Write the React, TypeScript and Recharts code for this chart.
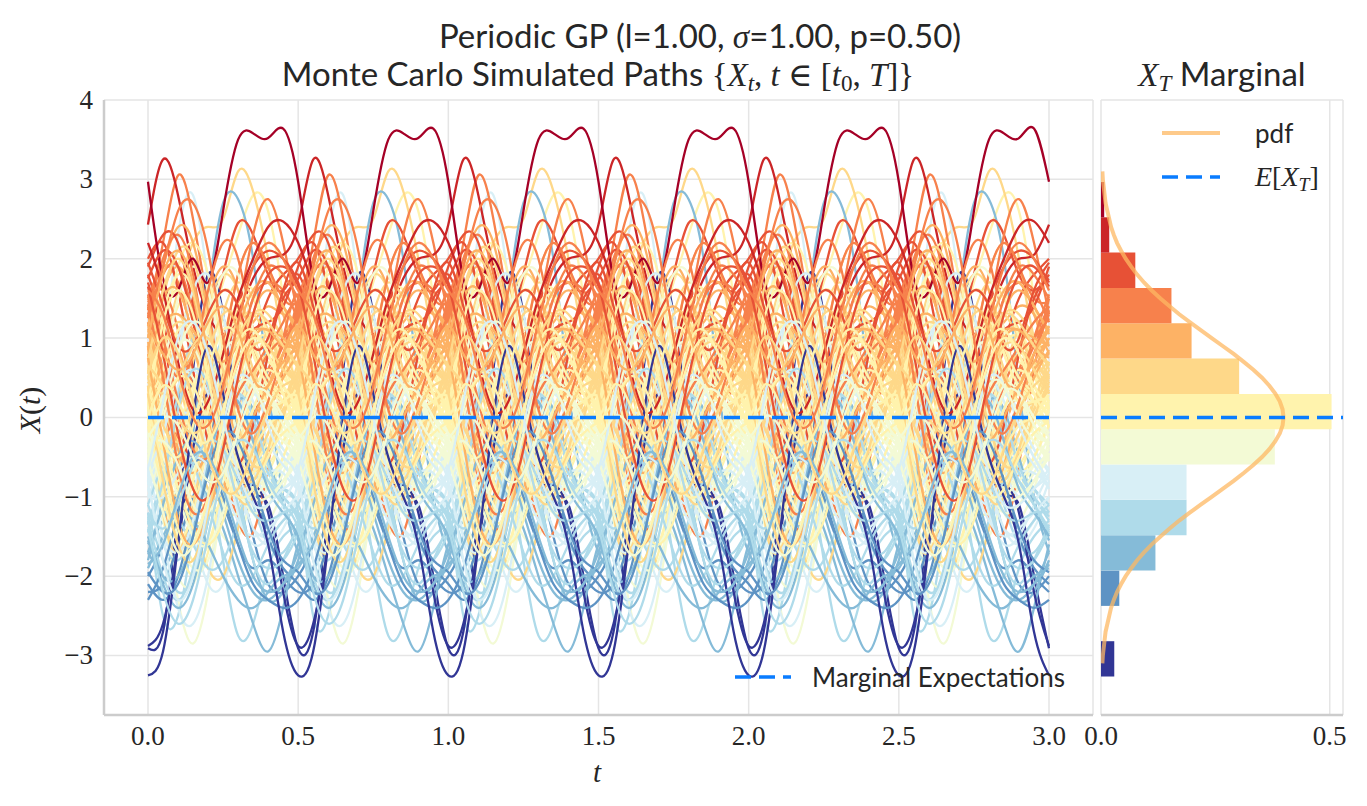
import React from 'react';
import {
  LineChart,
  Line,
  XAxis,
  YAxis,
  CartesianGrid,
  ComposedChart,
  ReferenceArea,
  Scatter,
} from 'recharts';

// one period (p = 0.5) of every simulated path, sampled at these offsets;
// the paths repeat every period so X_T equals X_0
const SAMPLE_T = [0, 0.05, 0.1, 0.15, 0.2, 0.25, 0.3, 0.35, 0.4, 0.45];
const N_PERIODS = 6;

// paths grouped by the histogram bin of their end value X_T
const darkRedPaths = [[2.97, 1.75, 1.6, 2.0, 1.7, 2.6, 3.5, 3.58, 3.52, 3.64]];
const redPaths = [
  [2.43, 3.25, 2.8, 1.9, 1.3, 1.05, 1.3, 1.75, 2.0, 2.05],
  [2.2, 1.6, 0.7, 0.1, 0.2, 0.8, 1.5, 2.0, 2.4, 2.47],
];
const redOrangePaths = [
  [1.8, 1.2, 0.5, 0.4, 1.0, 1.8, 2.45, 2.3, 1.8, 1.6],
  [2.0, 2.2, 1.6, 0.6, -0.3, -0.5, 0.1, 0.9, 1.5, 1.8],
  [1.7, 1.0, 0.0, -0.6, -0.4, 0.5, 1.4, 1.9, 2.1, 2.0],
  [1.9, 2.3, 2.2, 1.4, 0.6, 0.3, 0.7, 1.1, 1.2, 1.4],
  [1.75, 2.1, 1.9, 1.2, 0.3, -0.4, -0.6, -0.1, 0.8, 1.5],
  [1.95, 1.4, 0.9, 0.9, 1.3, 1.6, 1.4, 0.9, 1.0, 1.6],
  [1.65, 0.8, -0.2, -0.9, -1.0, -0.4, 0.5, 1.3, 1.8, 1.9],
];
const orangePaths = [
  [1.4, 2.2, 3.05, 2.5, 1.4, 0.3, -0.3, 0.0, 0.6, 1.0],
  [1.3, 0.6, -0.3, -0.8, -0.6, 0.2, 1.3, 2.3, 2.75, 2.2],
  [1.5, 1.9, 1.7, 1.0, 0.2, -0.6, -1.3, -1.45, -0.6, 0.6],
  [1.2, 0.3, -0.8, -1.4, -1.1, -0.2, 0.8, 1.5, 1.7, 1.6],
  [1.45, 1.6, 1.1, 0.4, 0.3, 0.9, 1.8, 2.2, 1.9, 1.5],
  [1.35, 2.0, 2.3, 1.8, 0.7, -0.2, -0.4, 0.0, 0.5, 0.9],
  [1.55, 0.9, 0.5, 0.8, 1.6, 2.2, 2.0, 1.1, 0.6, 1.0],
  [1.25, 1.8, 1.9, 1.3, 0.4, -0.2, -0.1, 0.4, 0.8, 1.0],
  [1.5, 1.0, 0.2, -0.4, -0.5, 0.0, 0.8, 1.5, 1.9, 1.8],
  [1.4, 0.5, -0.6, -1.2, -1.0, -0.3, 0.3, 0.6, 0.9, 1.2],
  [1.3, 1.9, 2.6, 2.7, 2.1, 1.0, 0.1, -0.2, 0.2, 0.8],
  [1.6, 1.3, 0.6, 0.0, -0.1, 0.4, 1.2, 1.9, 2.2, 2.0],
];
const lightOrangePaths = [
  [0.9, -1.0, -1.7, -1.2, -0.2, 0.6, 1.0, 1.2, 1.4, 1.3],
  [1.0, 1.6, 1.9, 1.5, 0.6, -0.3, -0.6, -0.3, 0.2, 0.6],
  [0.8, 0.2, -0.4, -0.5, 0.0, 0.9, 1.8, 2.2, 1.9, 1.3],
  [1.1, 1.3, 0.9, 0.2, -0.6, -0.9, -0.6, -0.1, 0.4, 0.8],
  [0.95, 0.4, 0.3, 0.8, 1.5, 1.9, 1.6, 0.9, 0.6, 0.8],
  [1.15, 1.9, 2.4, 2.2, 1.3, 0.3, -0.2, -0.1, 0.4, 0.8],
  [0.8, 0.0, -0.5, -0.55, -0.5, -0.8, -0.9, -0.4, 0.2, 0.6],
  [1.05, 0.6, -0.2, -0.9, -1.1, -0.6, 0.4, 1.3, 1.6, 1.4],
  [0.85, 1.5, 1.6, 1.0, 0.0, -0.8, -1.0, -0.6, 0.0, 0.5],
  [1.1, 0.4, -0.4, -0.7, -0.4, 0.3, 1.1, 1.6, 1.7, 1.4],
  [0.9, 1.2, 1.3, 1.1, 0.8, 0.7, 0.9, 1.1, 1.1, 1.0],
  [0.75, -0.3, -1.3, -1.6, -1.2, -0.4, 0.5, 1.0, 1.1, 0.9],
  [1.0, 1.8, 2.1, 1.7, 0.8, 0.0, -0.3, 0.0, 0.4, 0.7],
  [1.15, 0.8, 0.6, 0.8, 1.2, 1.4, 1.1, 0.5, 0.4, 0.8],
];
const sandPaths = [
  [0.5, 0.9, 1.6, 2.2, 2.4, 2.5, 3.1, 2.85, 2.0, 1.0],
  [0.4, -0.4, -1.2, -1.5, -1.0, -0.1, 0.7, 1.0, 0.9, 0.6],
  [0.6, 1.3, 1.6, 1.2, 0.4, -0.4, -0.8, -0.7, -0.2, 0.2],
  [0.35, 0.0, 0.1, 0.7, 1.4, 1.8, 1.6, 1.0, 0.5, 0.3],
  [0.7, 0.3, -0.5, -1.3, -1.9, -2.0, -1.4, -0.6, 0.1, 0.5],
  [0.5, 1.1, 1.3, 0.9, 0.2, -0.2, 0.0, 0.5, 0.8, 0.7],
  [0.3, -0.6, -1.0, -0.6, 0.4, 1.3, 1.7, 1.5, 1.1, 0.7],
  [0.65, 0.9, 0.5, -0.3, -0.9, -1.0, -0.4, 0.5, 1.1, 1.0],
  [0.45, 0.1, -0.3, -0.3, 0.2, 0.8, 1.2, 1.3, 1.0, 0.7],
  [0.55, 1.5, 2.1, 2.0, 1.2, 0.2, -0.5, -0.7, -0.4, 0.1],
  [0.4, -1.2, -1.7, -1.1, -0.3, -0.2, -0.6, -0.8, -0.4, 0.0],
  [0.6, 0.0, -0.7, -1.0, -0.7, 0.0, 0.8, 1.3, 1.3, 1.0],
  [0.35, 0.9, 1.2, 1.0, 0.4, -0.3, -0.7, -0.6, -0.2, 0.1],
  [0.5, -0.1, -0.3, 0.1, 0.8, 1.3, 1.2, 0.6, 0.2, 0.2],
  [0.7, 1.6, 2.0, 1.6, 0.7, -0.3, -1.0, -1.0, -0.4, 0.2],
  [0.45, 0.3, 0.5, 0.9, 1.0, 0.6, -0.1, -0.6, -0.5, 0.0],
  [0.3, -0.8, -1.6, -1.8, -1.2, -0.3, 0.5, 0.9, 0.9, 0.6],
  [0.65, 0.4, 0.0, -0.2, 0.0, 0.5, 1.0, 1.3, 1.2, 0.9],
  [0.55, 1.0, 0.8, 0.2, -0.5, -0.9, -0.9, -0.4, 0.1, 0.4],
];
const yellowPaths = [
  [0.1, -0.5, -0.6, 0.1, 1.0, 1.7, 2.3, 2.8, 2.6, 1.5],
  [0.0, 0.8, 1.4, 1.5, 0.9, 0.0, -0.7, -0.9, -0.7, -0.3],
  [0.2, -0.5, -1.3, -1.8, -1.6, -0.9, 0.0, 0.6, 0.7, 0.5],
  [-0.1, 0.3, 0.9, 1.2, 1.1, 0.5, -0.2, -0.8, -0.9, -0.5],
  [0.25, 0.9, 1.0, 0.5, -0.2, -0.6, -0.5, 0.0, 0.3, 0.3],
  [0.05, -0.8, -1.6, -2.0, -1.7, -0.8, 0.2, 0.9, 1.0, 0.6],
  [0.15, 0.4, 0.3, 0.1, 0.3, 0.9, 1.5, 1.6, 1.0, 0.4],
  [-0.05, -0.6, -0.8, -0.4, 0.3, 1.0, 1.2, 0.8, 0.3, 0.0],
  [0.1, 1.0, 1.9, 2.2, 1.8, 0.8, -0.2, -0.7, -0.6, -0.3],
  [0.2, -0.2, -0.9, -1.3, -1.2, -0.5, 0.4, 1.0, 1.1, 0.7],
  [-0.1, -0.3, -0.1, 0.4, 0.8, 0.7, 0.1, -0.5, -0.7, -0.5],
  [0.0, 0.5, 0.6, 0.1, -0.6, -1.1, -1.2, -0.8, -0.4, -0.2],
  [0.28, 1.3, 1.8, 1.6, 0.8, -0.1, -0.6, -0.6, -0.3, 0.0],
  [-0.12, -1.0, -1.5, -1.2, -0.3, 0.7, 1.4, 1.5, 1.0, 0.3],
  [0.12, 0.2, -0.2, -0.8, -1.2, -1.0, -0.4, 0.3, 0.6, 0.4],
  [0.05, -0.4, -0.3, 0.3, 1.1, 1.6, 1.4, 0.8, 0.4, 0.2],
  [0.0, -0.9, -1.2, -0.8, 0.1, 0.9, 1.2, 0.9, 0.5, 0.3],
  [0.2, 0.6, 1.1, 1.1, 0.6, -0.1, -0.6, -0.7, -0.4, -0.1],
  [-0.1, -0.4, -0.9, -1.4, -1.6, -1.3, -0.6, 0.1, 0.4, 0.2],
  [0.15, 1.2, 1.6, 1.3, 0.5, -0.3, -0.6, -0.4, -0.1, 0.0],
  [0.25, -0.3, -0.5, -0.1, 0.6, 1.1, 1.0, 0.5, 0.2, 0.2],
  [-0.05, 0.2, 0.5, 0.4, -0.1, -0.7, -1.0, -0.9, -0.5, -0.2],
  [0.1, -0.6, -1.4, -1.6, -1.0, 0.0, 0.9, 1.1, 0.8, 0.4],
  [0.0, 0.4, 0.2, -0.2, -0.3, 0.1, 0.7, 1.0, 0.8, 0.3],
];
const paleGreenPaths = [
  [-0.4, -1.2, -2.3, -2.85, -2.2, -1.0, 0.0, 0.5, 0.5, 0.1],
  [-0.3, 0.4, 1.1, 1.4, 1.1, 0.3, -0.6, -1.2, -1.3, -0.9],
  [-0.5, -1.1, -1.3, -0.8, 0.1, 0.9, 1.2, 0.9, 0.3, -0.2],
  [-0.2, 0.2, 0.2, -0.3, -1.0, -1.5, -1.5, -1.0, -0.5, -0.2],
  [-0.45, -0.2, 0.3, 0.9, 1.3, 1.2, 0.5, -0.4, -0.9, -0.8],
  [-0.35, -1.3, -2.0, -2.1, -1.5, -0.6, 0.2, 0.5, 0.3, -0.1],
  [-0.55, -0.3, -0.1, -0.2, -0.5, -0.7, -0.5, 0.0, 0.2, -0.2],
  [-0.25, 0.6, 1.5, 1.9, 1.6, 0.7, -0.3, -0.9, -0.9, -0.6],
  [-0.4, -0.9, -0.9, -0.4, 0.2, 0.4, 0.0, -0.6, -0.9, -0.7],
  [-0.2, -0.8, -1.5, -1.9, -1.8, -1.1, -0.2, 0.4, 0.4, 0.1],
  [-0.5, 0.0, 0.5, 0.5, 0.0, -0.6, -1.0, -1.0, -0.8, -0.6],
  [-0.3, -0.6, -0.4, 0.3, 1.2, 1.8, 1.8, 1.1, 0.3, -0.2],
  [-0.3, -0.9, -1.1, -0.7, 0.1, 0.8, 0.9, 0.4, 0.0, -0.2],
  [-0.5, 0.3, 0.9, 0.9, 0.4, -0.3, -0.9, -1.2, -1.1, -0.8],
  [-0.2, -0.5, -1.0, -1.5, -1.6, -1.2, -0.5, 0.1, 0.2, 0.0],
  [-0.45, 0.1, 0.8, 1.2, 1.0, 0.3, -0.5, -1.0, -1.0, -0.8],
  [-0.35, -0.3, -0.6, -1.1, -1.2, -0.8, -0.1, 0.4, 0.3, -0.1],
  [-0.55, -1.2, -1.7, -1.6, -1.0, -0.2, 0.4, 0.4, 0.0, -0.3],
  [-0.25, 0.0, -0.1, -0.5, -0.8, -0.7, -0.2, 0.3, 0.3, 0.0],
];
const iceBluePaths = [
  [-0.8, 0.7, 2.3, 2.8, 1.7, 0.2, -0.9, -1.4, -1.5, -1.3],
  [-0.9, -0.6, -0.9, -1.5, -2.1, -2.1, -1.4, -0.6, -0.3, -0.5],
  [-0.7, -1.3, -1.5, -1.0, 0.0, 0.8, 1.0, 0.6, 0.0, -0.4],
  [-1.0, -0.5, 0.3, 0.8, 0.7, 0.0, -0.8, -1.4, -1.6, -1.4],
  [-0.65, -1.5, -2.4, -2.6, -2.0, -0.9, 0.0, 0.3, 0.0, -0.4],
  [-0.85, -0.4, 0.0, 0.0, -0.4, -0.9, -1.1, -0.9, -0.7, -0.7],
  [-0.75, -0.2, 0.8, 1.6, 1.8, 1.3, 0.3, -0.6, -1.0, -0.9],
  [-0.9, -1.5, -1.7, -1.3, -0.5, 0.3, 0.5, 0.2, -0.3, -0.6],
  [-0.7, -0.2, 0.4, 0.6, 0.3, -0.4, -1.2, -1.6, -1.5, -1.1],
  [-1.0, -1.0, -0.7, -0.5, -0.6, -0.9, -1.3, -1.5, -1.4, -1.2],
  [-0.8, -1.8, -2.3, -2.0, -1.1, -0.1, 0.5, 0.4, -0.1, -0.5],
  [-0.65, 0.2, 1.0, 1.2, 0.8, 0.0, -0.7, -1.1, -1.1, -0.9],
];
const skyBluePaths = [
  [-1.3, -0.8, -0.2, 0.0, -0.6, -1.8, -2.75, -2.6, -1.9, -1.5],
  [-1.2, -2.5, -2.5, -1.4, 0.2, 1.0, 0.8, 0.0, -0.6, -0.9],
  [-1.4, -1.1, -0.4, 0.3, 0.6, 0.3, -0.4, -1.1, -1.6, -1.7],
  [-1.1, -1.6, -1.8, -1.4, -0.6, 0.1, 0.3, -0.1, -0.6, -0.9],
  [-1.35, -0.7, 0.3, 1.0, 1.0, 0.2, -0.9, -1.8, -2.1, -1.8],
  [-1.25, -1.8, -2.2, -2.0, -1.3, -0.5, -0.1, -0.3, -0.7, -1.0],
  [-1.45, -1.2, -1.3, -1.6, -1.9, -1.8, -1.3, -0.8, -0.8, -1.1],
  [-1.1, -0.6, -0.4, -0.6, -1.1, -1.7, -2.1, -2.0, -1.6, -1.3],
  [-1.3, -2.0, -2.3, -1.9, -1.0, -0.1, 0.3, 0.0, -0.6, -1.0],
  [-1.45, -0.8, 0.1, 0.6, 0.4, -0.3, -1.1, -1.7, -1.9, -1.8],
  [-1.2, -1.4, -1.1, -0.6, -0.3, -0.4, -0.8, -1.2, -1.3, -1.2],
  [-1.4, -2.2, -2.6, -2.3, -1.5, -0.7, -0.3, -0.4, -0.8, -1.1],
];
const bluePaths = [
  [-1.7, -1.9, -1.4, -0.2, 1.5, 2.7, 2.75, 2.0, 0.4, -1.0],
  [-1.6, -1.3, -0.9, -0.8, -1.0, -1.4, -2.0, -2.6, -2.95, -2.4],
  [-1.8, -1.0, 0.2, 1.0, 1.0, 0.2, -0.9, -1.8, -2.3, -2.2],
  [-1.55, -2.1, -2.4, -2.1, -1.3, -0.4, 0.2, 0.1, -0.5, -1.1],
  [-1.9, -1.5, -1.2, -1.3, -1.6, -2.0, -2.3, -2.4, -2.2, -2.0],
  [-1.7, -1.1, -0.5, -0.3, -0.6, -1.2, -1.8, -2.2, -2.3, -2.1],
  [-1.5, -2.0, -2.0, -1.5, -0.6, 0.1, 0.2, -0.3, -0.9, -1.2],
  [-1.85, -1.6, -1.0, -0.5, -0.5, -0.9, -1.5, -2.0, -2.2, -2.1],
];
const steelBluePaths = [
  [-2.0, -1.6, -0.8, 0.1, 0.6, 0.3, -0.6, -1.5, -2.1, -2.2],
  [-2.2, -2.1, -1.6, -1.0, -0.8, -1.1, -1.6, -1.9, -1.8, -2.0],
  [-2.1, -2.3, -2.0, -1.2, -0.3, 0.2, -0.1, -0.8, -1.5, -1.9],
  [-2.3, -1.9, -1.2, -0.6, -0.6, -1.0, -1.6, -2.1, -2.3, -2.4],
  [-1.95, -2.2, -2.1, -1.5, -0.7, -0.2, -0.3, -0.8, -1.4, -1.8],
];
const navyPaths = [
  [-2.91, -2.7, -1.2, 0.6, 1.8, 1.3, 0.0, -0.9, -1.1, -2.0],
  [-2.88, -2.6, -1.6, -0.4, 0.3, -0.2, -0.8, -0.85, -1.2, -2.2],
  [-3.25, -2.95, -1.6, 0.0, 0.9, 0.3, -0.5, -1.0, -1.6, -2.7],
];

// marginal histogram of X_T
const BIN_EDGES = [
  -3.265, -2.82, -2.375, -1.93, -1.484, -1.039, -0.594, -0.149, 0.296, 0.741,
  1.186, 1.631, 2.077, 2.522, 2.967,
];
const BIN_DENSITY = [
  0.029, 0, 0.04, 0.119, 0.187, 0.187, 0.38, 0.504, 0.302, 0.198, 0.154, 0.075,
  0.018, 0.007,
];
const BIN_COLORS = [
  '#313695', '#4069ac', '#5e93c4', '#85bbd8', '#afdbea', '#d8eff6', '#f3fad5',
  '#fff3ad', '#fed889', '#fdb265', '#f7814c', '#e75136', '#cb2527', '#a50026',
];

// fitted normal pdf drawn next to the histogram
const PDF_Y = [
  -3.1, -3.0, -2.9, -2.8, -2.7, -2.6, -2.5, -2.4, -2.3, -2.2, -2.1, -2.0, -1.9,
  -1.8, -1.7, -1.6, -1.5, -1.4, -1.3, -1.2, -1.1, -1.0, -0.9, -0.8, -0.7, -0.6,
  -0.5, -0.4, -0.3, -0.2, -0.1, 0, 0.1, 0.2, 0.3, 0.4, 0.5, 0.6, 0.7, 0.8, 0.9,
  1.0, 1.1, 1.2, 1.3, 1.4, 1.5, 1.6, 1.7, 1.8, 1.9, 2.0, 2.1, 2.2, 2.3, 2.4, 2.5,
  2.6, 2.7, 2.8, 2.9, 3.0, 3.1,
];
const PDF_D = [
  0.003, 0.004, 0.006, 0.008, 0.01, 0.014, 0.018, 0.022, 0.028, 0.035, 0.044,
  0.054, 0.066, 0.079, 0.094, 0.111, 0.13, 0.15, 0.171, 0.194, 0.218, 0.242,
  0.266, 0.29, 0.312, 0.333, 0.352, 0.368, 0.381, 0.391, 0.397, 0.399, 0.397,
  0.391, 0.381, 0.368, 0.352, 0.333, 0.312, 0.29, 0.266, 0.242, 0.218, 0.194,
  0.171, 0.15, 0.13, 0.111, 0.094, 0.079, 0.066, 0.054, 0.044, 0.035, 0.028,
  0.022, 0.018, 0.014, 0.01, 0.008, 0.006, 0.004, 0.003,
];

// marginal expectation E[X_t]
const MEAN_T = [0, 3];
const MEAN_V = [0, 0];
const MEAN_XT = 0;

const T_TICKS = [0, 0.5, 1, 1.5, 2, 2.5, 3];
const Y_TICKS = [-3, -2, -1, 0, 1, 2, 3, 4];
const D_TICKS = [0, 0.5];

const BLUE = '#0a7cff';
const PDF_COLOR = '#fdb863';
const GRID = '#e5e5e5';
const SPINE = '#cccccc';
const INK = '#262626';
const SANS = 'Lato, "Open Sans", sans-serif';
const SERIF = '"Liberation Serif", "DejaVu Serif", serif';

const binOf = (x: number) => {
  for (let i = 0; i < BIN_COLORS.length; i++) {
    if (x < BIN_EDGES[i + 1]) return i;
  }
  return BIN_COLORS.length - 1;
};

const tile = (vals: number[]) => {
  const pts: { t: number; v: number }[] = [];
  for (let p = 0; p < N_PERIODS; p++) {
    vals.forEach((v, i) => pts.push({ t: +(p * 0.5 + SAMPLE_T[i]).toFixed(2), v }));
  }
  pts.push({ t: N_PERIODS * 0.5, v: vals[0] });
  return pts;
};

// spread every colour group evenly through the drawing order, so no colour sits on top
const groups = [
  yellowPaths, paleGreenPaths, sandPaths, iceBluePaths, lightOrangePaths, skyBluePaths,
  orangePaths, bluePaths, redOrangePaths, steelBluePaths, navyPaths, redPaths, darkRedPaths,
];
const drawOrder = groups
  .flatMap((g) => g.map((vals, i) => ({ vals, k: (i + 0.5) / g.length })))
  .sort((a, b) => a.k - b.k)
  .map((o) => o.vals);

const XTick = ({ x, y, payload }: any) => (
  <text x={x} y={y + 13} textAnchor="middle" dominantBaseline="central"
    fontFamily={SERIF} fontSize={27} fill={INK}>
    {payload.value.toFixed(1)}
  </text>
);

const YTick = ({ x, y, payload }: any) => (
  <text x={x - 3} y={y} textAnchor="end" dominantBaseline="central"
    fontFamily={SERIF} fontSize={27} fill={INK}>
    {payload.value < 0 ? `\u2212${-payload.value}` : payload.value}
  </text>
);

const NoDot = () => <g />;

const sub = { fontSize: '0.7em', verticalAlign: '-0.25em', lineHeight: 0 };

function PathsPanel() {
  const meanData = MEAN_T.map((t, i) => ({ t, v: MEAN_V[i] }));
  return (
    <LineChart width={1100} height={806} margin={{ top: 100, right: 7, bottom: 41, left: 44 }}>
      <CartesianGrid stroke={GRID} strokeWidth={1.5} />
      <XAxis dataKey="t" type="number" domain={[-0.1465, 3.1465]} ticks={T_TICKS}
        allowDataOverflow tick={<XTick />} tickLine={false} height={50}
        axisLine={{ stroke: SPINE, strokeWidth: 2.5 }} />
      <YAxis type="number" domain={[-3.75, 4]} ticks={Y_TICKS} allowDataOverflow
        tick={<YTick />} tickLine={false} width={60}
        axisLine={{ stroke: SPINE, strokeWidth: 2.5 }} />
      {drawOrder.map((vals, i) => (
        <Line key={`p-${i}`} data={tile(vals)} dataKey="v" type="natural"
          stroke={BIN_COLORS[binOf(vals[0])]} strokeWidth={2.3} dot={false}
          activeDot={false} isAnimationActive={false} />
      ))}
      <Line data={meanData} dataKey="v" type="linear" stroke={BLUE} strokeWidth={3.5}
        strokeDasharray="16 8" dot={false} activeDot={false} isAnimationActive={false} />
    </LineChart>
  );
}

function MarginalPanel() {
  const pdfData = PDF_Y.map((y, i) => ({ d: PDF_D[i], y }));
  const meanData = [{ d: 0, y: MEAN_XT }, { d: 0.529, y: MEAN_XT }];
  return (
    <ComposedChart width={300} height={806} margin={{ top: 100, right: 17, bottom: 41, left: 41 }}>
      <CartesianGrid stroke={GRID} strokeWidth={1.5} />
      <XAxis dataKey="d" type="number" domain={[0, 0.529]} ticks={D_TICKS}
        allowDataOverflow tick={<XTick />} tickLine={false} height={50}
        axisLine={{ stroke: SPINE, strokeWidth: 2.5 }} />
      <YAxis dataKey="y" type="number" domain={[-3.75, 4]} ticks={Y_TICKS}
        allowDataOverflow tick={false} tickLine={false} width={0}
        axisLine={{ stroke: SPINE, strokeWidth: 2.5 }} />
      {BIN_DENSITY.map((d, i) =>
        d > 0 ? (
          <ReferenceArea key={`b-${i}`} x1={0} x2={d} y1={BIN_EDGES[i]} y2={BIN_EDGES[i + 1]}
            fill={BIN_COLORS[i]} fillOpacity={1} stroke="none" />
        ) : null,
      )}
      <Scatter data={pdfData} shape={<NoDot />} isAnimationActive={false}
        line={{ stroke: PDF_COLOR, strokeWidth: 4, strokeOpacity: 0.75 }} />
      <Scatter data={meanData} shape={<NoDot />} isAnimationActive={false}
        line={{ stroke: BLUE, strokeWidth: 3.5, strokeDasharray: '16 8' }} />
    </ComposedChart>
  );
}

const abs = (left: number, top: number, extra: React.CSSProperties = {}): React.CSSProperties => ({
  position: 'absolute',
  left,
  top,
  whiteSpace: 'nowrap',
  color: INK,
  ...extra,
});

export default function App() {
  return (
    <div style={{ position: 'fixed', left: 0, top: 0, width: 1367, height: 806, background: '#fff', overflow: 'hidden' }}>
      <div style={abs(0, 0)}>
        <PathsPanel />
      </div>
      <div style={abs(1060, 0)}>
        <MarginalPanel />
      </div>

      <div style={abs(700, 35, { transform: 'translate(-50%, -50%)', fontFamily: SANS, fontSize: 33 })}>
        Periodic GP (l=1.00, <i style={{ fontFamily: SERIF }}>σ</i>=1.00, p=0.50)
      </div>
      <div style={abs(598, 73, { transform: 'translate(-50%, -50%)', fontFamily: SANS, fontSize: 33 })}>
        Monte Carlo Simulated Paths{' '}
        <span style={{ fontFamily: SERIF }}>
          {'{'}<i>X</i><i style={sub}>t</i>, <i>t</i> ∈ [<i>t</i><span style={sub}>0</span>, <i>T</i>]{'}'}
        </span>
      </div>
      <div style={abs(1222, 73, { transform: 'translate(-50%, -50%)', fontFamily: SANS, fontSize: 33 })}>
        <span style={{ fontFamily: SERIF }}><i>X</i><i style={sub}>T</i></span> Marginal
      </div>

      <div style={abs(30, 410, { transform: 'translate(-50%, -50%) rotate(-90deg)', fontFamily: SERIF, fontSize: 30 })}>
        <i>X</i>(<i>t</i>)
      </div>
      <div style={abs(597, 772, { transform: 'translate(-50%, -50%)', fontFamily: SERIF, fontSize: 29 })}>
        <i>t</i>
      </div>

      <div style={abs(735, 677, { transform: 'translateY(-50%)', display: 'flex', alignItems: 'center' })}>
        <svg width={56} height={8}>
          <line x1={0} y1={4} x2={56} y2={4} stroke={BLUE} strokeWidth={3.5} strokeDasharray="16 8" />
        </svg>
        <span style={{ marginLeft: 21, fontFamily: SANS, fontSize: 26 }}>Marginal Expectations</span>
      </div>

      <div style={abs(1162, 133, { transform: 'translateY(-50%)', display: 'flex', alignItems: 'center' })}>
        <svg width={58} height={8}>
          <line x1={0} y1={4} x2={58} y2={4} stroke={PDF_COLOR} strokeOpacity={0.75} strokeWidth={4} />
        </svg>
        <span style={{ marginLeft: 35, fontFamily: SANS, fontSize: 26 }}>pdf</span>
      </div>
      <div style={abs(1162, 177, { transform: 'translateY(-50%)', display: 'flex', alignItems: 'center' })}>
        <svg width={58} height={8}>
          <line x1={0} y1={4} x2={58} y2={4} stroke={BLUE} strokeWidth={3.5} strokeDasharray="16 8" />
        </svg>
        <span style={{ marginLeft: 35, fontFamily: SERIF, fontSize: 28 }}>
          <i>E</i>[<i>X</i><i style={sub}>T</i>]
        </span>
      </div>
    </div>
  );
}
